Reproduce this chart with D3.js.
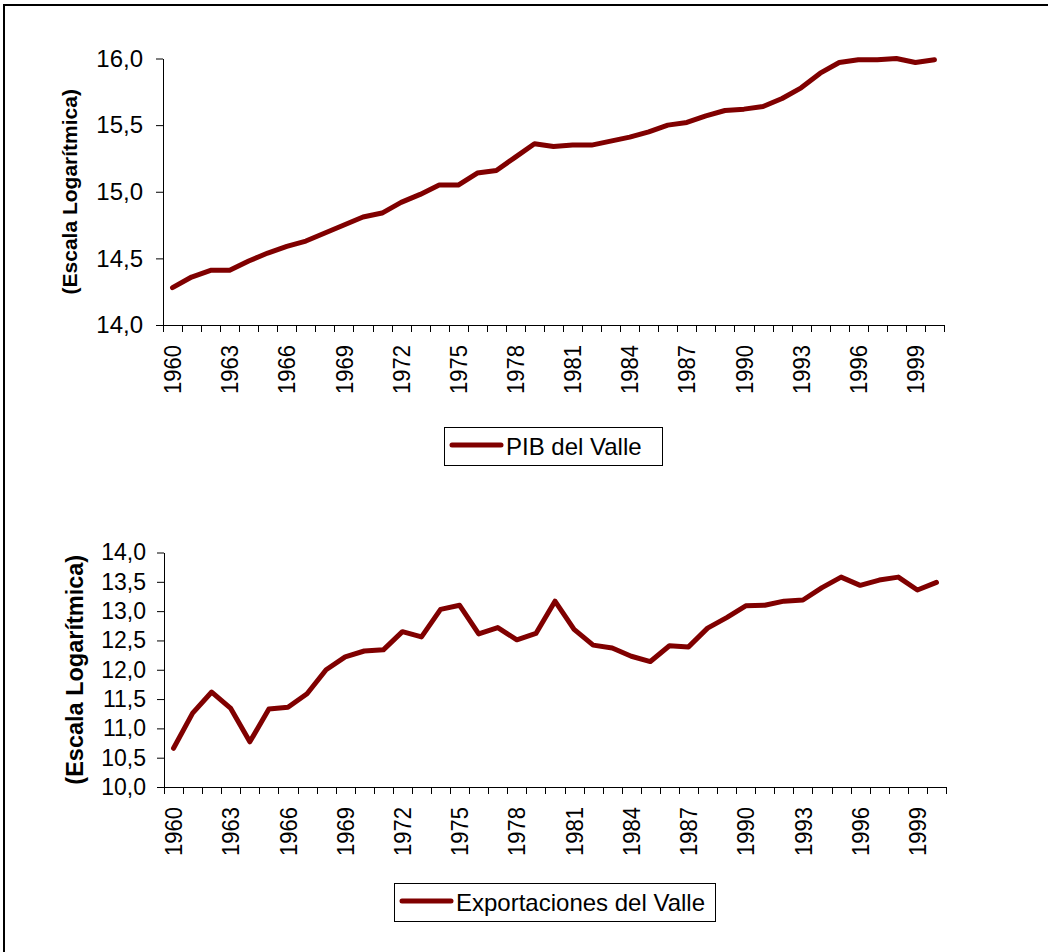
<!DOCTYPE html>
<html>
<head>
<meta charset="utf-8">
<script src="https://cdn.jsdelivr.net/npm/d3@7/dist/d3.min.js"></script>
<style>
body { margin: 0; background: #fff; }
svg { display: block; font-family: "Liberation Sans", Arial, sans-serif; }
</style>
</head>
<body>
<svg id="chart" width="1048" height="952"></svg>
<script>
var years = [1960, 1961, 1962, 1963, 1964, 1965, 1966, 1967, 1968, 1969,
    1970, 1971, 1972, 1973, 1974, 1975, 1976, 1977, 1978, 1979,
    1980, 1981, 1982, 1983, 1984, 1985, 1986, 1987, 1988, 1989,
    1990, 1991, 1992, 1993, 1994, 1995, 1996, 1997, 1998, 1999, 2000];
var yearLabels = [1960, 1963, 1966, 1969, 1972, 1975, 1978, 1981, 1984, 1987, 1990, 1993, 1996, 1999];

// log PIB del Valle
var pib = [14.28, 14.36, 14.41, 14.41, 14.48, 14.54, 14.59, 14.63, 14.69, 14.75,
    14.81, 14.84, 14.92, 14.98, 15.05, 15.05, 15.14, 15.16, 15.26, 15.36,
    15.34, 15.35, 15.35, 15.38, 15.41, 15.45, 15.50, 15.52, 15.57, 15.61,
    15.62, 15.64, 15.70, 15.78, 15.89, 15.97, 15.99, 15.99, 16.00, 15.97, 15.99];
var pibTicks = [14.0, 14.5, 15.0, 15.5, 16.0];

// log Exportaciones del Valle
var expo = [10.66, 11.26, 11.62, 11.34, 10.77, 11.33, 11.36, 11.59, 12.00, 12.22,
    12.32, 12.34, 12.65, 12.56, 13.03, 13.10, 12.61, 12.72, 12.51, 12.62,
    13.17, 12.69, 12.42, 12.37, 12.23, 12.14, 12.41, 12.39, 12.71, 12.89,
    13.09, 13.10, 13.17, 13.19, 13.40, 13.58, 13.44, 13.53, 13.58, 13.36, 13.49];
var expoTicks = [10.0, 10.5, 11.0, 11.5, 12.0, 12.5, 13.0, 13.5, 14.0];

var axisTitle = "(Escala Logarítmica)";
var lineColor = "#800000";

var svg = d3.select("#chart");
var fmt = function (d) { return d3.format(".1f")(d).replace(".", ","); };

// outer frame
svg.append("rect")
    .attr("x", 4).attr("y", 5)
    .attr("width", 1100).attr("height", 1000)
    .attr("fill", "none").attr("stroke", "#000").attr("stroke-width", 2);

function drawPanel(p) {
    var xs = d3.scaleBand().domain(years).range([p.left, p.right]);
    var ys = d3.scaleLinear().domain([p.ticks[0], p.ticks[p.ticks.length - 1]]).range([p.bottom, p.top]);
    var g = svg.append("g");

    // y axis
    var yAxis = g.append("g")
        .attr("transform", "translate(" + p.left + ",0)")
        .call(d3.axisLeft(ys).tickValues(p.ticks).tickSize(7).tickSizeOuter(0)
            .tickPadding(p.tickPad).tickFormat(fmt));
    yAxis.selectAll("text").attr("font-size", p.tickFont).attr("fill", "#000")
        .attr("font-family", "Liberation Sans, Arial, sans-serif");
    yAxis.selectAll("line, path").attr("stroke", "#000");

    // x axis: ticks between categories
    g.append("line")
        .attr("x1", p.left).attr("x2", p.right)
        .attr("y1", p.bottom + 0.5).attr("y2", p.bottom + 0.5)
        .attr("stroke", "#000");
    var bounds = years.map(function (d) { return xs(d); }).concat([p.right]);
    g.selectAll(".xtick").data(bounds).enter().append("line")
        .attr("class", "xtick")
        .attr("x1", function (d) { return Math.round(d) + 0.5; })
        .attr("x2", function (d) { return Math.round(d) + 0.5; })
        .attr("y1", p.bottom).attr("y2", p.bottom + 7)
        .attr("stroke", "#000");
    g.selectAll(".xlab").data(yearLabels).enter().append("text")
        .attr("class", "xlab")
        .attr("transform", function (d) {
            return "translate(" + (xs(d) + xs.bandwidth() / 2) + "," + (p.bottom + 20) + ") rotate(-90) scale(1,1.12)";
        })
        .attr("text-anchor", "end")
        .attr("dy", "0.35em")
        .attr("font-size", 22)
        .text(function (d) { return d; });

    // axis title
    g.append("text")
        .attr("transform", "translate(" + p.titleX + "," + ((p.top + p.bottom) / 2) + ") rotate(-90)")
        .attr("text-anchor", "middle")
        .attr("dy", "0.35em")
        .attr("font-weight", "bold")
        .attr("font-size", p.titleFont)
        .text(axisTitle);

    // series
    var line = d3.line()
        .x(function (d, i) { return xs(years[i]) + xs.bandwidth() / 2; })
        .y(function (d) { return ys(d); });
    g.append("path")
        .datum(p.values)
        .attr("d", line)
        .attr("fill", "none")
        .attr("stroke", lineColor)
        .attr("stroke-width", 5)
        .attr("stroke-linejoin", "round")
        .attr("stroke-linecap", "round");

    // legend
    var lg = g.append("g");
    lg.append("rect")
        .attr("x", p.leg.x + 0.5).attr("y", p.leg.y + 0.5)
        .attr("width", p.leg.w).attr("height", p.leg.h)
        .attr("fill", "#fff").attr("stroke", "#000");
    lg.append("line")
        .attr("x1", p.leg.x + 8).attr("x2", p.leg.x + 57)
        .attr("y1", p.leg.y + p.leg.h / 2 - 1).attr("y2", p.leg.y + p.leg.h / 2 - 1)
        .attr("stroke", lineColor).attr("stroke-width", 5).attr("stroke-linecap", "round");
    lg.append("text")
        .attr("x", p.leg.x + 62)
        .attr("y", p.leg.y + p.leg.h / 2 + 9)
        .attr("font-size", 24)
        .text(p.name);
}

drawPanel({
    name: "PIB del Valle", values: pib, ticks: pibTicks,
    left: 163, right: 944, top: 58.5, bottom: 325,
    tickFont: 24, tickPad: 13, titleX: 70, titleFont: 21,
    leg: { x: 444, y: 427, w: 218, h: 38 }
});
drawPanel({
    name: "Exportaciones del Valle", values: expo, ticks: expoTicks,
    left: 164, right: 946, top: 552.5, bottom: 787,
    tickFont: 23, tickPad: 11, titleX: 75, titleFont: 23.5,
    leg: { x: 394, y: 883, w: 321, h: 38 }
});
</script>
</body>
</html>
